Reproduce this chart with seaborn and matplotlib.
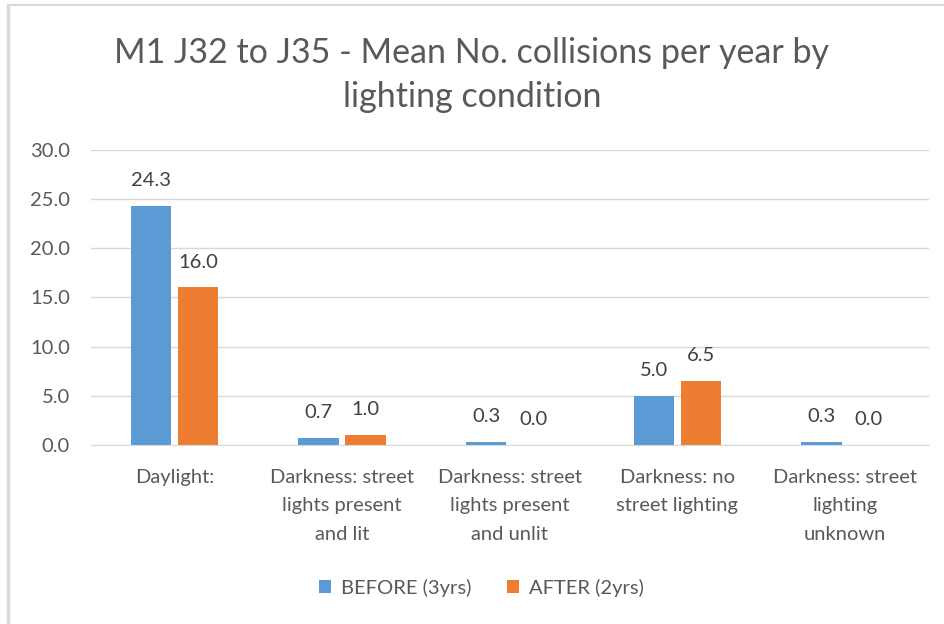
import matplotlib
matplotlib.use('Agg')
import matplotlib.pyplot as plt
import seaborn as sns
import pandas as pd
from matplotlib.lines import Line2D

categories = ['Daylight:', 'Darkness: street\nlights present\nand lit',
              'Darkness: street\nlights present\nand unlit',
              'Darkness: no\nstreet lighting',
              'Darkness: street\nlighting\nunknown']
before = [24.3, 0.7, 0.3, 5.0, 0.3]
after = [16.0, 1.0, 0.0, 6.5, 0.0]
series = ['BEFORE (3yrs)', 'AFTER (2yrs)']
colors = ['#5B9BD5', '#ED7D31']

df = pd.DataFrame({
    'cat': categories * 2,
    'val': before + after,
    'series': [series[0]] * 5 + [series[1]] * 5,
})

sns.set_style('white')
plt.rcParams['font.family'] = ['Lato', 'DejaVu Sans']

fig = plt.figure(figsize=(9.44, 6.24), dpi=100)
# frame lines (only left and top visible in the screenshot)
fig.add_artist(Line2D([8/944, 8/944], [0, 1 - 5/624], transform=fig.transFigure,
                      color='#D9D9D9', linewidth=2.5))
fig.add_artist(Line2D([8/944, 1], [1 - 5/624, 1 - 5/624], transform=fig.transFigure,
                      color='#D9D9D9', linewidth=1.5))
ax = fig.add_axes([0.096, 0.287, 0.888, 0.473])

sns.barplot(data=df, x='cat', y='val', hue='series', palette=colors, saturation=1,
            width=0.56, gap=0.14, linewidth=0, ax=ax, legend=True)

for c in ax.containers:
    ax.bar_label(c, fmt='%.1f', padding=12, fontsize=14.5, color='#404040')

ax.set_ylim(0, 30)
ax.set_yticks(range(0, 31, 5))
ax.set_yticklabels([f'{v:.1f}' for v in range(0, 31, 5)])
ax.yaxis.grid(True, color='#D9D9D9', linewidth=1)
ax.set_axisbelow(True)
for s in ['top', 'right', 'left']:
    ax.spines[s].set_visible(False)
ax.spines['bottom'].set_color('#D9D9D9')
ax.tick_params(axis='both', labelsize=14.5, colors='#595959', length=0)
ax.tick_params(axis='y', pad=15)
ax.tick_params(axis='x', pad=17)
for t in ax.get_xticklabels():
    t.set_linespacing(1.85)
ax.set_xlabel('')
ax.set_ylabel('')

fig.suptitle('M1 J32 to J35 - Mean No. collisions per year by\nlighting condition',
             x=0.5, y=0.94, fontsize=24.5, color='#595959', linespacing=1.45)

ax.legend(loc='center', bbox_to_anchor=(0.51, 0.058), bbox_transform=fig.transFigure,
          ncol=2, frameon=False, fontsize=14.5, handlelength=0.6, handleheight=0.6,
          columnspacing=1.8, handletextpad=0.5, labelcolor='#595959')

fig.savefig('out.png', dpi=100)
